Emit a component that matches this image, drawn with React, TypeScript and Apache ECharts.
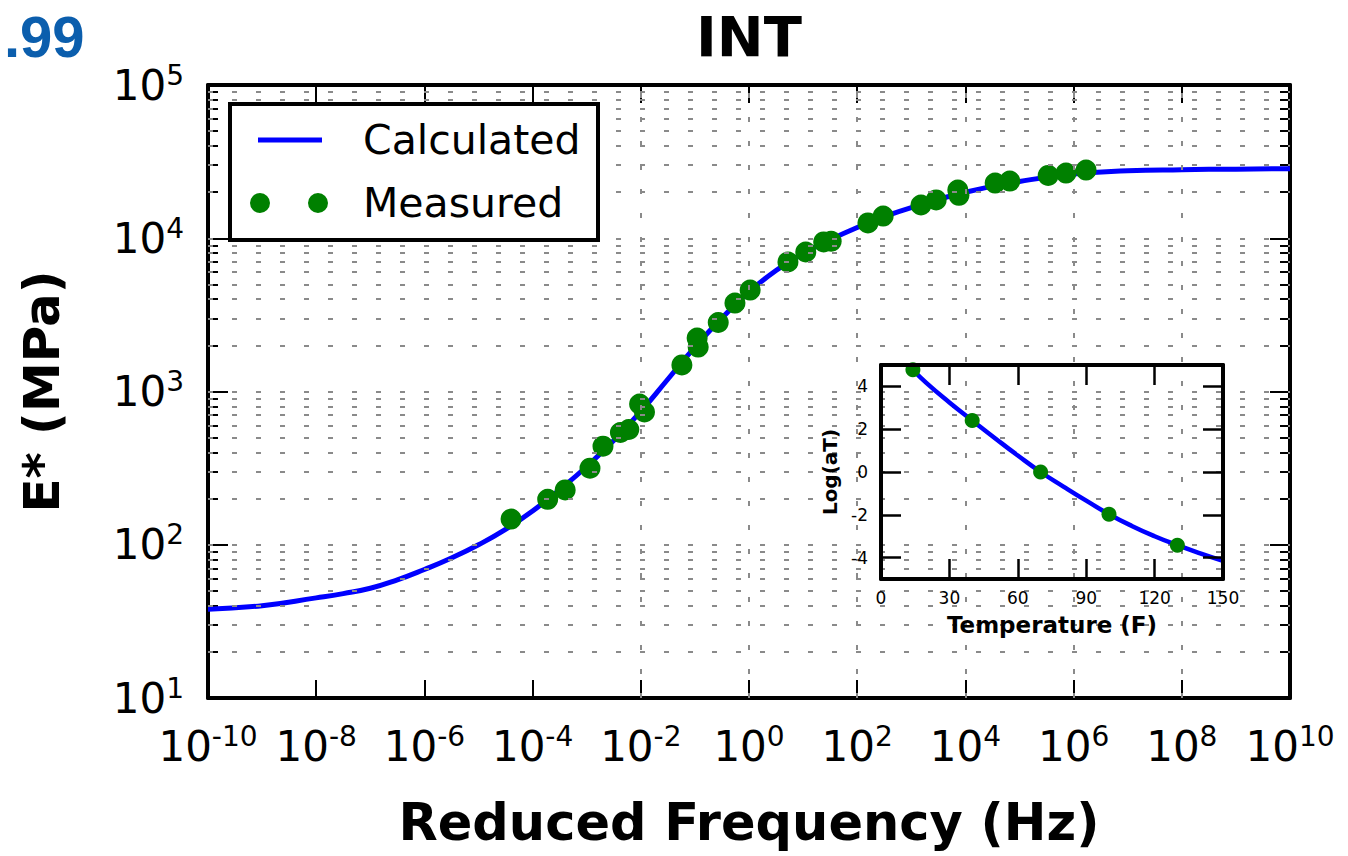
import React, { useEffect, useRef } from 'react';
import * as echarts from 'echarts';

// ---- data ----
const FREQ_TICKS = [1e-10, 1e-8, 1e-6, 1e-4, 1e-2, 1, 1e2, 1e4, 1e6, 1e8, 1e10];
const MODULUS_DECADES = [10, 100, 1000, 10000, 100000];
const MINOR_MULTIPLIERS = [2, 3, 4, 5, 6, 7, 8, 9];

const CALC_FREQ = [1e-10, 1e-9, 1e-8, 3.16e-8, 1e-7, 3.16e-7, 1e-6, 3.16e-6, 1e-5, 3.16e-5, 1e-4, 3.16e-4, 1e-3, 3.16e-3, 1e-2, 3.16e-2, 0.1, 0.316, 1, 3.16, 10, 31.6, 100, 316, 1000, 1e4, 1e5, 1e6, 1e7, 1e8, 1e9, 1e10];
const CALC_MODULUS = [38, 40, 45, 48, 52, 59, 69, 82, 100, 126, 166, 229, 324, 479, 741, 1202, 1950, 3020, 4467, 6166, 7943, 9772, 11750, 13800, 15850, 19950, 23440, 26300, 27540, 28000, 28250, 28450];

const MEAS_FREQ = [4.0e-5, 1.9e-4, 4.0e-4, 1.15e-3, 2.0e-3, 4.2e-3, 6.0e-3, 9.5e-3, 1.17e-2, 5.75e-2, 0.11, 0.115, 0.27, 0.55, 1.05, 5.25, 11.2, 24, 33, 158, 302, 1510, 2880, 7240, 7590, 35500, 66100, 339000, 724000, 1.7e6];
const MEAS_MODULUS = [147, 198, 228, 316, 440, 540, 565, 828, 735, 1490, 2234, 1950, 2820, 3775, 4590, 7000, 8130, 9460, 9560, 12590, 13960, 16480, 17780, 20650, 19050, 22900, 23600, 25700, 26640, 27860];

const TEMP_CURVE = [14, 20, 30, 40, 50, 60, 70, 80, 90, 100, 110, 120, 130, 140, 150];
const LOGAT_CURVE = [4.78, 4.15, 3.25, 2.41, 1.58, 0.77, 0, -0.68, -1.34, -1.97, -2.52, -3.0, -3.42, -3.8, -4.15];
const TEMP_MEAS = [14, 40, 70, 100, 130];
const LOGAT_MEAS = [4.78, 2.41, 0, -1.97, -3.42];
const LOGAT_TICKS = [-4, -2, 0, 2, 4];

const FONT = 'DejaVu Sans';

const MINOR_TICKS: number[] = [];
MODULUS_DECADES.slice(0, 4).forEach((d) => MINOR_MULTIPLIERS.forEach((m) => MINOR_TICKS.push(d * m)));
const H_GRID = [...MODULUS_DECADES.slice(1, 4), ...MINOR_TICKS];
const V_GRID = FREQ_TICKS.slice(1, -1);

const supLabel = (v: number) => `{b|10}{s|${Math.round(Math.log10(v))}}`;
const rich = {
  b: { fontSize: 42, lineHeight: 48, fontFamily: FONT, color: '#000' },
  s: { fontSize: 28, lineHeight: 22, verticalAlign: 'top', fontFamily: FONT, color: '#000' },
};

export default function App() {
  const ref = useRef<HTMLDivElement>(null);
  useEffect(() => {
    if (!ref.current) return;
    const chart = echarts.init(ref.current, undefined, { renderer: 'svg' });
    const axisLine = { show: true, onZero: false, lineStyle: { color: '#000', width: 4 } };
    const majorTickX = { show: true, inside: true, length: 18, lineStyle: { color: '#000', width: 2 }, customValues: FREQ_TICKS };
    const majorTickY = { show: true, inside: true, length: 20, lineStyle: { color: '#000', width: 2 }, customValues: MODULUS_DECADES };
    const minorTickY = { show: true, inside: true, length: 10, lineStyle: { color: '#000', width: 2 }, customValues: MINOR_TICKS };
    const insetTick = { show: true, inside: true, length: 20, lineStyle: { color: '#000', width: 2.5 } };
    const insetLabel = { fontSize: 17, fontFamily: FONT, color: '#000' };

    const option: any = {
      animation: false,
      backgroundColor: '#fff',
      textStyle: { fontFamily: FONT },
      title: {
        text: 'INT',
        left: 696,
        top: 6,
        padding: 0,
        textStyle: { fontSize: 56, fontWeight: 'bold', fontFamily: FONT, color: '#000', lineHeight: 60 },
      },
      grid: [
        { left: 208, right: 58, top: 85, bottom: 158, outerBoundsMode: 'none', containLabel: false },
        { left: 881, top: 365, width: 342, height: 214, outerBoundsMode: 'none', containLabel: false },
      ],
      legend: [
        {
          data: [{ name: 'Calculated', icon: 'rect' }],
          left: 258, top: 116, padding: 0, itemWidth: 64, itemHeight: 5, selectedMode: false, z: 12,
          textStyle: { fontSize: 41, fontFamily: FONT, color: '#000', lineHeight: 48, padding: [0, 0, 0, 36] },
        },
        {
          data: [{ name: 'Measured', icon: 'path://M0,10 a10,10 0 1,0 20,0 a10,10 0 1,0 -20,0 Z M58,10 a10,10 0 1,0 20,0 a10,10 0 1,0 -20,0 Z' }],
          left: 250, top: 179, padding: 0, itemWidth: 78, itemHeight: 20, selectedMode: false, z: 12,
          textStyle: { fontSize: 41, fontFamily: FONT, color: '#000', lineHeight: 48, padding: [0, 0, 0, 30] },
        },
      ],
      graphic: [
        { type: 'rect', z: 10, shape: { x: 230, y: 104, width: 368, height: 136 }, style: { fill: '#fff', stroke: '#000', lineWidth: 4 } },
        { type: 'rect', z: 5, shape: { x: 881, y: 365, width: 342, height: 214 }, style: { fill: '#fff' } },
        { type: 'text', z: 10, style: { x: 4, y: 36, text: '.99', verticalAlign: 'middle', fontSize: 58, fontWeight: 'bold', fontFamily: 'Liberation Sans', fill: '#0b5ead' } },
      ],
      xAxis: [
        {
          type: 'log', logBase: 10, gridIndex: 0, min: 1e-10, max: 1e10, position: 'bottom',
          axisLine, axisTick: majorTickX, splitLine: { show: false }, minorTick: { show: false },
          axisLabel: { customValues: FREQ_TICKS, formatter: supLabel, rich, margin: 24 },
          name: 'Reduced Frequency (Hz)', nameLocation: 'middle', nameGap: 100,
          nameTextStyle: { fontSize: 51, fontWeight: 'bold', fontFamily: FONT, color: '#000', lineHeight: 48 },
        },
        {
          type: 'log', logBase: 10, gridIndex: 0, min: 1e-10, max: 1e10, position: 'top',
          axisLine, axisTick: majorTickX, splitLine: { show: false }, axisLabel: { show: false },
        },
        {
          type: 'value', gridIndex: 1, min: 0, max: 150, interval: 30, position: 'bottom', z: 7,
          axisLine, axisTick: insetTick, splitLine: { show: false },
          axisLabel: { ...insetLabel, margin: 10 },
          name: 'Temperature (F)', nameLocation: 'middle', nameGap: 33,
          nameTextStyle: { fontSize: 23, fontWeight: 'bold', fontFamily: FONT, color: '#000', lineHeight: 26 },
        },
        {
          type: 'value', gridIndex: 1, min: 0, max: 150, interval: 30, position: 'top', z: 7,
          axisLine, axisTick: insetTick, splitLine: { show: false }, axisLabel: { show: false },
        },
      ],
      yAxis: [
        {
          type: 'log', logBase: 10, gridIndex: 0, min: 10, max: 100000, position: 'left',
          axisLine, axisTick: majorTickY, splitLine: { show: false },
          axisLabel: { customValues: MODULUS_DECADES, formatter: supLabel, rich, margin: 24 },
          name: 'E* (MPa)', nameLocation: 'middle', nameGap: 138, nameRotate: 90,
          nameTextStyle: { fontSize: 50, fontWeight: 'bold', fontFamily: FONT, color: '#000', lineHeight: 56 },
        },
        {
          type: 'log', logBase: 10, gridIndex: 0, min: 10, max: 100000, position: 'right',
          axisLine, axisTick: majorTickY, splitLine: { show: false }, axisLabel: { show: false },
        },
        {
          type: 'log', logBase: 10, gridIndex: 0, min: 10, max: 100000, position: 'left',
          axisLine: { show: false }, axisTick: minorTickY, splitLine: { show: false }, axisLabel: { show: false },
        },
        {
          type: 'log', logBase: 10, gridIndex: 0, min: 10, max: 100000, position: 'right',
          axisLine: { show: false }, axisTick: minorTickY, splitLine: { show: false }, axisLabel: { show: false },
        },
        {
          type: 'value', gridIndex: 1, min: -5, max: 5, position: 'left', z: 7,
          axisLine, axisTick: { ...insetTick, customValues: LOGAT_TICKS }, splitLine: { show: false },
          axisLabel: { ...insetLabel, customValues: LOGAT_TICKS, margin: 13 },
          name: 'Log(aT)', nameLocation: 'middle', nameGap: 39, nameRotate: 90,
          nameTextStyle: { fontSize: 20, fontWeight: 'bold', fontFamily: FONT, color: '#000', lineHeight: 24 },
        },
        {
          type: 'value', gridIndex: 1, min: -5, max: 5, position: 'right', z: 7,
          axisLine, axisTick: { ...insetTick, customValues: LOGAT_TICKS }, splitLine: { show: false }, axisLabel: { show: false },
        },
      ],
      series: [
        {
          name: 'grid', type: 'line', xAxisIndex: 0, yAxisIndex: 0, data: [], z: 1, silent: true,
          markLine: {
            silent: true, symbol: ['none', 'none'], label: { show: false }, animation: false,
            lineStyle: { color: '#8a8a8a', type: [5, 19], width: 2 },
            emphasis: { disabled: true },
            data: [...H_GRID.map((v) => ({ yAxis: v })), ...V_GRID.map((v) => ({ xAxis: v }))],
          },
        },
        {
          name: 'Calculated', type: 'line', xAxisIndex: 0, yAxisIndex: 0, z: 2,
          data: CALC_FREQ.map((f, i) => [f, CALC_MODULUS[i]]),
          showSymbol: false, symbol: 'none', smooth: true,
          lineStyle: { color: '#0000ff', width: 5 }, itemStyle: { color: '#0000ff' },
        },
        {
          name: 'Measured', type: 'scatter', xAxisIndex: 0, yAxisIndex: 0, z: 3,
          data: MEAS_FREQ.map((f, i) => [f, MEAS_MODULUS[i]]),
          symbol: 'circle', symbolSize: 21, itemStyle: { color: '#008000', opacity: 1 },
        },
        {
          name: 'Shift factor fit', type: 'line', xAxisIndex: 2, yAxisIndex: 4, z: 6,
          data: TEMP_CURVE.map((t, i) => [t, LOGAT_CURVE[i]]),
          showSymbol: false, symbol: 'none', smooth: true,
          lineStyle: { color: '#0000ff', width: 4.5 },
        },
        {
          name: 'Shift factor', type: 'scatter', xAxisIndex: 2, yAxisIndex: 4, z: 6,
          data: TEMP_MEAS.map((t, i) => [t, LOGAT_MEAS[i]]),
          symbol: 'circle', symbolSize: 15, itemStyle: { color: '#008000', opacity: 1 },
        },
      ],
    };
    chart.setOption(option);
    return () => chart.dispose();
  }, []);
  return <div ref={ref} style={{ position: 'absolute', left: 0, top: 0, width: 1348, height: 856 }} />;
}
